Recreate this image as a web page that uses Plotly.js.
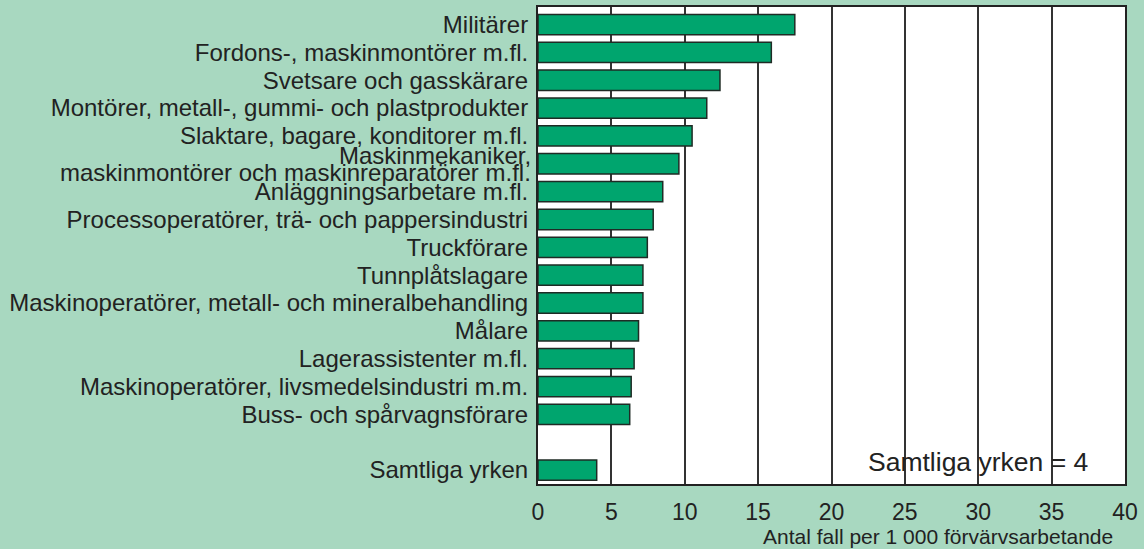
<!DOCTYPE html>
<html>
<head>
<meta charset="utf-8">
<script src="https://cdn.plot.ly/plotly-3.0.1.min.js"></script>
<style>
html,body{margin:0;padding:0;background:#a8d8c0;}
#chart{width:1144px;height:549px;}
</style>
</head>
<body>
<div id="chart"></div>
<script>
var categories = [
  "Militärer",
  "Fordons-, maskinmontörer m.fl.",
  "Svetsare och gasskärare",
  "Montörer, metall-, gummi- och plastprodukter",
  "Slaktare, bagare, konditorer m.fl.",
  "Maskinmekaniker,<br>maskinmontörer och maskinreparatörer m.fl.",
  "Anläggningsarbetare m.fl.",
  "Processoperatörer, trä- och pappersindustri",
  "Truckförare",
  "Tunnplåtslagare",
  "Maskinoperatörer, metall- och mineralbehandling",
  "Målare",
  "Lagerassistenter m.fl.",
  "Maskinoperatörer, livsmedelsindustri m.m.",
  "Buss- och spårvagnsförare",
  "",
  "Samtliga yrken"
];
var values = [17.5, 15.9, 12.4, 11.5, 10.5, 9.6, 8.5, 7.85, 7.45, 7.15, 7.15, 6.85, 6.55, 6.35, 6.25, null, 4.0];
var xTickVals = [0, 5, 10, 15, 20, 25, 30, 35, 40];
var totalLabel = "Samtliga yrken = 4";
var axisTitle = "Antal fall per 1 000 förvärvsarbetande";

var positions = categories.map(function(c, i){ return i; });
var tickText = [];
var annotations = [];
var FONT = '"Liberation Sans", Arial, Helvetica, sans-serif';
var textColor = '#222222';
var labelSize = 24;

categories.forEach(function(c, i){
  if (c.indexOf('<br>') >= 0) {
    tickText.push('');
    var parts = c.split('<br>');
    annotations.push({xref:'paper', yref:'y', x:0, y:i, xanchor:'right', yanchor:'middle',
      xshift:-5, yshift:8.5, text:parts[0], showarrow:false,
      font:{family:FONT, size:labelSize, color:textColor}});
    annotations.push({xref:'paper', yref:'y', x:0, y:i, xanchor:'right', yanchor:'middle',
      xshift:-5, yshift:-8.5, text:parts[1], showarrow:false,
      font:{family:FONT, size:labelSize, color:textColor}});
  } else {
    tickText.push(c);
  }
});

annotations.push({xref:'x', yref:'paper', x:30, y:0, xanchor:'center', yanchor:'middle',
  yshift:22, text:totalLabel, showarrow:false,
  font:{family:FONT, size:26.5, color:textColor}});
annotations.push({xref:'paper', yref:'paper', x:1, y:0, xanchor:'right', yanchor:'middle',
  xshift:-10, yshift:-52, text:axisTitle, showarrow:false,
  font:{family:FONT, size:21, color:textColor}});

var trace = {
  type:'bar', orientation:'h',
  x: values, y: positions,
  width: 0.73,
  marker:{color:'#00a56e', line:{color:'#1f2b25', width:1.5}},
  hoverinfo:'skip'
};

var layout = {
  width:1144, height:549,
  margin:{l:538, r:19, t:7, b:65, pad:0},
  paper_bgcolor:'#a8d8c0',
  plot_bgcolor:'#ffffff',
  showlegend:false,
  font:{family:FONT, color:textColor},
  xaxis:{
    range:[0,40], tickvals:xTickVals, ticktext:xTickVals.map(String),
    showgrid:true, gridcolor:'#333333', gridwidth:2,
    zeroline:false, showline:true, mirror:true, linecolor:'#222222', linewidth:2,
    ticks:'', tickfont:{family:FONT, size:23, color:textColor},
    ticklabelstandoff:6, fixedrange:true
  },
  yaxis:{
    range:[16.5, -0.63], tickvals:positions, ticktext:tickText,
    showgrid:false, zeroline:false, showline:true, mirror:true,
    linecolor:'#222222', linewidth:2,
    ticks:'', tickfont:{family:FONT, size:labelSize, color:textColor},
    ticklabelstandoff:3, fixedrange:true
  },
  annotations: annotations
};

Plotly.newPlot('chart', [trace], layout, {displayModeBar:false, staticPlot:true});
</script>
</body>
</html>
